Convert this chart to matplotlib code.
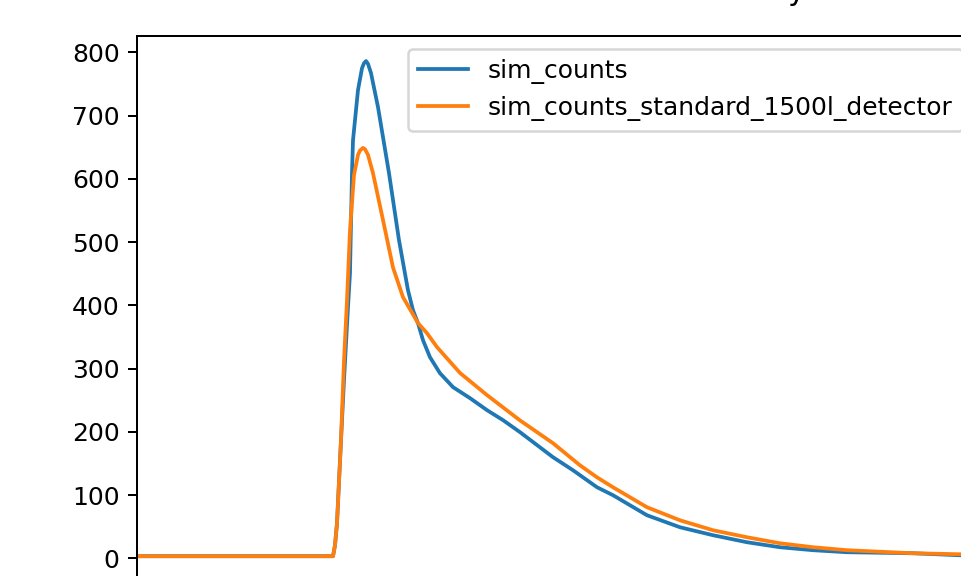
import numpy as np
import matplotlib
matplotlib.use("Agg")
import matplotlib.pyplot as plt

# time axis (arbitrary units) and simulated counts for both detectors
t_sim = [0, 23.53, 23.77, 24.01, 24.49, 24.85, 25.33, 25.57, 25.81, 25.93,
         26.53, 27.01, 27.25, 27.49, 27.73, 28.09, 28.93, 30.25, 31.45, 32.53,
         33.13, 33.73, 34.33, 35.17, 36.37, 37.94, 39.98, 42.02, 43.94, 45.98,
         49.94, 52.34, 55.22, 57.14, 61.22, 65.19, 69.15, 73.23, 77.19,
         81.15, 85.23, 93.16, 98.80, 100]
sim_counts = [3.2, 3.2, 20.6, 55.4, 186.7, 281.6, 397.2, 451.0, 609.2, 661.0,
              740.5, 775.0, 783.0, 786.4, 782.0, 767.4, 713.6, 609.2, 503.2, 424.0,
              392.4, 371.8, 345.0, 318.0, 292.7, 270.6, 253.2, 234.2, 218.4, 199.4,
              159.8, 139.2, 112.3, 99.7, 68.0, 49.0, 36.4, 25.3, 17.4,
              12.7, 9.5, 7.9, 4.7, 4.5]

t_std = [0, 23.53, 23.77, 24.01, 24.49, 24.85, 25.21, 25.57, 26.05, 26.53,
         26.77, 27.13, 27.37, 27.73, 28.33, 29.53, 30.73, 31.93, 33.73, 34.81,
         36.01, 38.78, 42.02, 45.98, 49.94, 53.18, 55.22, 57.14, 61.22, 65.19,
         69.15, 73.23, 77.19, 81.15, 85.23, 93.16, 98.80, 100]
sim_counts_std = [3.2, 3.2, 20.6, 55.4, 186.7, 313.0, 408.0, 519.0, 606.0, 638.0,
                  645.0, 649.0, 647.0, 638.0, 609.0, 535.0, 460.0, 413.0, 372.0, 356.0,
                  334.0, 293.0, 258.0, 218.0, 182.0, 147.0, 128.0, 112.3, 80.7, 60.0,
                  44.3, 33.2, 23.7, 17.4, 12.7, 7.9, 6.3, 6.0]

fig = plt.figure(figsize=(961 / 180, 576 / 180), dpi=180)
ax = fig.add_axes([137 / 961, -5 / 576, (970 - 137) / 961, (576 - 36 + 5) / 576])

ax.plot(t_sim, sim_counts, label="sim_counts")
ax.plot(t_std, sim_counts_std, label="sim_counts_standard_1500l_detector")

ax.set_xlim(0, 100)
ax.set_ylim(-36, 826)
ax.set_yticks(np.arange(0, 801, 100))
ax.tick_params(axis="x", labelbottom=False)
ax.legend(loc="upper right", bbox_to_anchor=(1 + 5 / 833, 1))

fig.text(796 / 961, 1.0, "y", fontsize=12, ha="center", va="baseline")

fig.savefig("out.png", dpi=180)
